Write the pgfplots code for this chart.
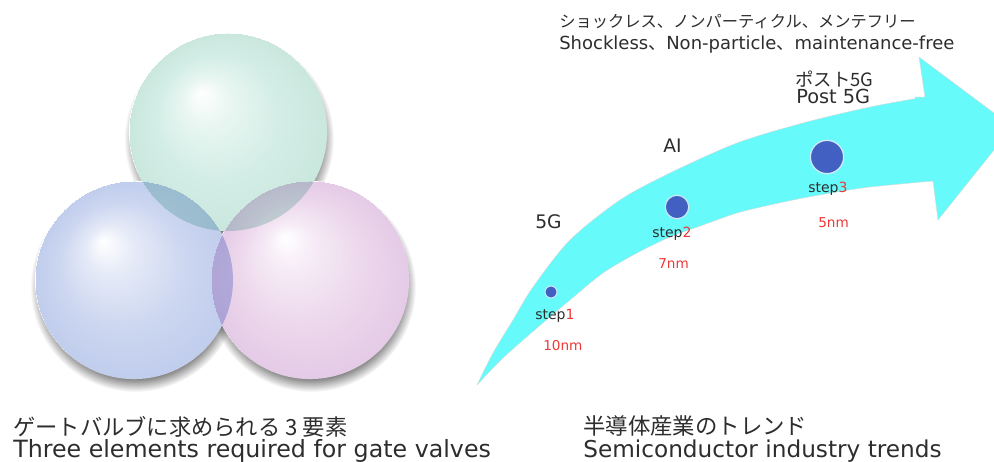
\documentclass[border=0pt]{standalone}
\usepackage{fontspec}
\setmainfont{DejaVu Sans}
\newfontfamily\jp{Noto Sans CJK JP}
\usepackage{pgfplots}
\pgfplotsset{compat=1.18}
\usepgfplotslibrary{fillbetween}

\definecolor{txt}{RGB}{45,45,45}
\definecolor{nmred}{RGB}{238,55,55}
\definecolor{arrowc}{RGB}{102,250,250}
\definecolor{dotc}{RGB}{66,96,194}
\definecolor{halo}{RGB}{205,235,250}
\definecolor{shadowc}{RGB}{120,120,120}
\definecolor{topA}{RGB}{210,237,229}
\definecolor{topB}{RGB}{202,231,222}
\definecolor{leftA}{RGB}{204,214,240}
\definecolor{leftB}{RGB}{192,205,236}
\definecolor{rightA}{RGB}{236,215,236}
\definecolor{rightB}{RGB}{228,202,230}

% sphere shadings, highlight up and to the left
\pgfdeclareradialshading{shTop}{\pgfpoint{-14bp}{20bp}}{color(0bp)=(white); color(12bp)=(white!50!topA); color(32bp)=(topA); color(50bp)=(topB)}
\pgfdeclareradialshading{shLeft}{\pgfpoint{-16bp}{20bp}}{color(0bp)=(white); color(12bp)=(white!50!leftA); color(32bp)=(leftA); color(50bp)=(leftB)}
\pgfdeclareradialshading{shRight}{\pgfpoint{-13bp}{22bp}}{color(0bp)=(white); color(12bp)=(white!50!rightA); color(32bp)=(rightA); color(50bp)=(rightB)}
\pgfdeclareradialshading{shShadow}{\pgfpoint{0bp}{0bp}}{color(0bp)=(shadowc); color(43bp)=(shadowc); color(50bp)=(white)}

% circle of radius mark size, filled with the shading scaled to that radius
\newcommand\shademark[1]{%
  \pgfscope
  \pgfsetblendmode{multiply}%
  \pgfpathcircle{\pgfpointorigin}{\pgfplotmarksize}%
  \pgfusepath{clip}%
  \pgfmathsetmacro\shscale{\pgfplotmarksize/50.1875}%
  \pgftransformscale{\shscale}%
  \pgflowlevelsynccm
  \pgfuseshading{#1}%
  \endpgfscope}
\pgfdeclareplotmark{sphTop}{\shademark{shTop}}
\pgfdeclareplotmark{sphLeft}{\shademark{shLeft}}
\pgfdeclareplotmark{sphRight}{\shademark{shRight}}
\pgfdeclareplotmark{sphShadow}{\shademark{shShadow}}
% opaque white disc that hides the shadows under the spheres
\pgfdeclareplotmark{wdisc}{%
  \pgfscope
  \pgfsetblendmode{normal}%
  \pgfsetfillcolor{white}%
  \pgfpathcircle{\pgfpointorigin}{\pgfplotmarksize}%
  \pgfusepath{fill}%
  \endpgfscope}

\begin{document}
\begin{tikzpicture}
\begin{axis}[
  set layers,
  scale only axis,
  width=745.5pt, height=345.75pt,
  xmin=0, xmax=994, ymin=0, ymax=461,
  y dir=reverse,
  hide axis,
  clip=false,
  nodes={inner sep=0pt, text=txt},
]
% --- three spheres ---
\addplot[only marks, mark=sphShadow, mark size=78.75pt] coordinates {(229,139) (135,287) (311,287)};
\addplot[only marks, mark=wdisc, mark size=74.3pt] coordinates {(228,132) (134,280) (310,280)};
\addplot[only marks, mark=sphTop, mark size=74.25pt] coordinates {(228,132)};
\addplot[only marks, mark=sphLeft, mark size=74.25pt] coordinates {(134,280)};
\addplot[only marks, mark=sphRight, mark size=74.25pt] coordinates {(310,280)};

\node[anchor=west, font=\jp\fontsize{11.6pt}{12pt}\selectfont] at (axis cs:163,124.5) {パーティクルフリー};
\node[anchor=base west, font=\fontsize{12pt}{13pt}\selectfont] at (axis cs:163,151) {Particle free};
\node[anchor=west, font=\jp\fontsize{11.6pt}{12pt}\selectfont] at (axis cs:48,271.5) {イージーメンテナンス};
\node[anchor=base west, font=\fontsize{12pt}{13pt}\selectfont] at (axis cs:48,299) {Easy maintenance};
\node[anchor=west, font=\jp\fontsize{11.6pt}{12pt}\selectfont] at (axis cs:263,271.5) {高いシール性};
\node[anchor=base west, font=\fontsize{12pt}{13pt}\selectfont] at (axis cs:263,299) {High sealability};

\node[anchor=west, font=\jp\fontsize{16.7pt}{18pt}\selectfont] at (axis cs:13,427) {ゲートバルブに求められる 3 要素};
\node[anchor=base west, font=\fontsize{17.8pt}{19pt}\selectfont] at (axis cs:13,457) {Three elements required for gate valves};

% --- trend arrow ---
\addplot[name path=up, draw=gray!30, line width=0.3pt, smooth] coordinates {
  (477,385) (493,353) (513,320) (533,287) (570,240) (620,200) (670,173)
  (737,143) (803,123) (870,107) (925,97)};
\addplot[name path=lo, draw=gray!30, line width=0.3pt, smooth] coordinates {
  (477,385) (503,358) (537,328) (570,300) (603,273) (637,253) (670,237)
  (703,225) (737,213) (770,205) (803,198) (837,192) (870,187) (933,181)};
\addplot[fill=arrowc, draw=none] fill between[of=up and lo];
\addplot[fill=arrowc, draw=none, on layer=pre main] coordinates {
  (915,97) (925,97) (919,57) (994,113) (994,150) (938,220) (933,181) (915,182)} -- cycle;
\addplot[draw=gray!30, line width=0.3pt] coordinates {
  (925,97) (919,57) (994,113)};
\addplot[draw=gray!30, line width=0.3pt] coordinates {
  (994,150) (938,220) (933,181)};

% steps on the arrow
\addplot[only marks, mark=*, mark size=4.5pt, mark options={fill=dotc, draw=halo, line width=0.8pt}] coordinates {(551,292)};
\addplot[only marks, mark=*, mark size=8.8pt, mark options={fill=dotc, draw=halo, line width=0.9pt}] coordinates {(677,207)};
\addplot[only marks, mark=*, mark size=12.5pt, mark options={fill=dotc, draw=halo, line width=1pt}] coordinates {(827,157)};

\node[anchor=base west, font=\fontsize{10.5pt}{11pt}\selectfont] at (axis cs:535,319) {step\textcolor{nmred}{1}};
\node[anchor=base west, font=\fontsize{10.2pt}{11pt}\selectfont, text=nmred] at (axis cs:543,350) {10nm};
\node[anchor=base west, font=\fontsize{10.5pt}{11pt}\selectfont] at (axis cs:652,237) {step\textcolor{nmred}{2}};
\node[anchor=base west, font=\fontsize{10.2pt}{11pt}\selectfont, text=nmred] at (axis cs:658,268) {7nm};
\node[anchor=base west, font=\fontsize{10.5pt}{11pt}\selectfont] at (axis cs:808,193) {step\textcolor{nmred}{3}};
\node[anchor=base west, font=\fontsize{10.2pt}{11pt}\selectfont, text=nmred] at (axis cs:818,227) {5nm};

\node[anchor=base west, font=\fontsize{14pt}{15pt}\selectfont] at (axis cs:535,228) {5G};
\node[anchor=base west, font=\fontsize{14pt}{15pt}\selectfont] at (axis cs:663,153) {AI};
\node[anchor=west, font=\jp\fontsize{13.8pt}{15pt}\selectfont] at (axis cs:795,79) {ポスト5G};
\node[anchor=base west, font=\fontsize{14.5pt}{15pt}\selectfont] at (axis cs:796,104) {Post 5G};

\node[anchor=west, font=\jp\fontsize{12.2pt}{13pt}\selectfont] at (axis cs:559,21.5) {ショックレス、ノンパーティクル、メンテフリー};
\node[anchor=base west, font=\fontsize{13.5pt}{14pt}\selectfont] at (axis cs:559,50) {Shockless{\jp 、}Non-particle{\jp 、}maintenance-free};

\node[anchor=west, font=\jp\fontsize{16.8pt}{18pt}\selectfont] at (axis cs:583,426) {半導体産業のトレンド};
\node[anchor=base west, font=\fontsize{17.4pt}{19pt}\selectfont] at (axis cs:583,457) {Semiconductor industry trends};
\end{axis}
\pgfresetboundingbox
\useasboundingbox (current axis.south west) rectangle (current axis.north east);
\end{tikzpicture}
\end{document}
